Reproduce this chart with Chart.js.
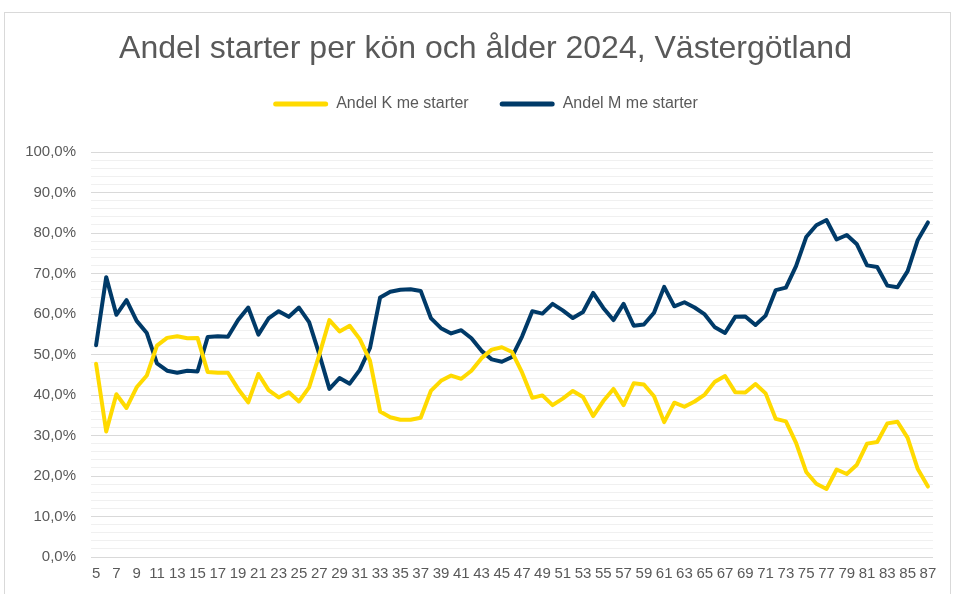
<!DOCTYPE html>
<html>
<head>
<meta charset="utf-8">
<script src="https://cdn.jsdelivr.net/npm/chart.js@4.4.1/dist/chart.umd.min.js"></script>
<style>
  html, body { margin: 0; padding: 0; background: #ffffff; }
  #wrap { position: relative; width: 955px; height: 594px; }
  canvas { display: block; }
</style>
</head>
<body>
<div id="wrap"><canvas id="c" width="955" height="594"></canvas></div>
<script>
const chartTitle = 'Andel starter per kön och ålder 2024, Västergötland';
const seriesNames = ['Andel K me starter', 'Andel M me starter'];
const ages = [5,6,7,8,9,10,11,12,13,14,15,16,17,18,19,20,21,22,23,24,25,26,27,28,29,30,31,32,33,34,35,36,37,38,39,40,41,42,43,44,45,46,47,48,49,50,51,52,53,54,55,56,57,58,59,60,61,62,63,64,65,66,67,68,69,70,71,72,73,74,75,76,77,78,79,80,81,82,83,84,85,86,87];
const andelK = [47.7,31.0,40.2,36.8,41.9,44.8,52.2,54.1,54.5,54.0,54.1,45.7,45.5,45.5,41.5,38.2,45.2,41.2,39.4,40.7,38.4,41.9,49.9,58.5,55.7,57.1,53.8,48.5,35.9,34.5,33.9,33.9,34.4,41.0,43.5,44.8,44.0,46.0,49.1,51.2,51.8,50.6,45.5,39.3,39.9,37.5,39.1,41.0,39.5,34.8,38.5,41.5,37.5,42.9,42.6,39.7,33.3,38.1,37.1,38.4,40.1,43.3,44.7,40.7,40.6,42.7,40.4,34.1,33.5,28.2,21.0,18.1,16.8,21.6,20.5,22.8,28.0,28.4,33.0,33.4,29.4,21.7,17.4];
const andelM = [52.3,69.1,59.8,63.4,58.3,55.3,47.8,46.0,45.5,46.0,45.8,54.3,54.5,54.4,58.5,61.6,54.9,58.9,60.7,59.3,61.6,58.0,50.1,41.5,44.2,42.8,46.2,51.6,64.1,65.5,66.0,66.1,65.7,59.0,56.5,55.2,56.0,54.0,50.9,48.8,48.2,49.4,54.5,60.7,60.1,62.5,60.9,59.0,60.5,65.2,61.5,58.5,62.5,57.1,57.4,60.3,66.7,61.9,62.9,61.6,59.9,56.7,55.3,59.3,59.4,57.3,59.6,65.9,66.5,71.8,79.0,81.9,83.2,78.4,79.5,77.2,72.0,71.6,67.0,66.6,70.6,78.3,82.6];
const yTickValues = [0,10,20,30,40,50,60,70,80,90,100];

const colK = '#FFDA00';
const colM = '#003A68';
const textCol = '#595959';
const FONT = '"Liberation Sans", Arial, sans-serif';

const borderPlugin = {
  id: 'outerBorder',
  beforeLayout(chart) {
    const lg = chart.legend;
    if (lg && !lg._patched) {
      const f = lg.fit;
      lg.fit = function () { f.call(this); this.height = 87; };
      lg._patched = true;
    }
  },
  afterLayout(chart) {
    const shift = 19;
    [chart.titleBlock, chart.legend].forEach(b => {
      if (b) { b.left += shift; b.right += shift; }
    });
  },
  beforeDraw(chart) {
    const ctx = chart.ctx;
    ctx.save();
    ctx.fillStyle = '#ffffff';
    ctx.fillRect(0, 0, chart.width, chart.height);
    ctx.strokeStyle = '#d9d9d9';
    ctx.lineWidth = 1;
    ctx.strokeRect(4.5, 12.5, 946, 600);
    ctx.restore();
  }
};

new Chart(document.getElementById('c'), {
  type: 'line',
  data: {
    labels: ages.map(String),
    datasets: [
      { label: seriesNames[0], data: andelK, borderColor: colK, backgroundColor: colK,
        borderWidth: 4, pointRadius: 0, tension: 0, borderJoinStyle: 'round', borderCapStyle: 'round' },
      { label: seriesNames[1], data: andelM, borderColor: colM, backgroundColor: colM,
        borderWidth: 4, pointRadius: 0, tension: 0, borderJoinStyle: 'round', borderCapStyle: 'round' }
    ]
  },
  plugins: [borderPlugin],
  options: {
    responsive: false,
    animation: false,
    layout: { padding: { left: 0, right: 22, top: 0, bottom: 0 } },
    plugins: {
      title: {
        display: true, text: chartTitle, color: textCol,
        font: { family: FONT, size: 32, weight: 'normal', lineHeight: 1.0 },
        padding: { top: 33, bottom: 0 }
      },
      legend: {
        display: true, position: 'top',
        labels: {
          color: textCol, font: { family: FONT, size: 16 },
          boxWidth: 55, boxHeight: 5, padding: 31,
          useBorderRadius: true, borderRadius: 2.5,
          generateLabels(chart) {
            const items = Chart.defaults.plugins.legend.labels.generateLabels(chart);
            items.forEach(it => { it.lineWidth = 0; it.fillStyle = it.strokeStyle; });
            return items;
          }
        }
      },
      tooltip: { enabled: false }
    },
    scales: {
      x: {
        offset: true,
        grid: { display: false, drawTicks: false, offset: true },
        border: { display: false },
        ticks: {
          color: textCol, font: { family: FONT, size: 15 }, padding: 8,
          autoSkip: false, maxRotation: 0, minRotation: 0,
          callback(v, i) { return i % 2 === 0 ? this.getLabelForValue(v) : ''; }
        },
        afterFit(s) { s.height = 37; }
      },
      y: {
        min: 0, max: 100,
        grid: {
          drawTicks: false, lineWidth: 1,
          color(ctx) { return yTickValues.includes(ctx.tick.value) ? '#d9d9d9' : '#f0f0f0'; }
        },
        border: { display: false },
        ticks: {
          stepSize: 2, autoSkip: false, padding: 15,
          color: textCol, font: { family: FONT, size: 15 },
          callback(v) { return yTickValues.includes(v) ? v.toFixed(1).replace('.', ',') + '%' : ''; }
        },
        afterFit(s) { s.width = 91; }
      }
    }
  }
});
</script>
</body>
</html>
